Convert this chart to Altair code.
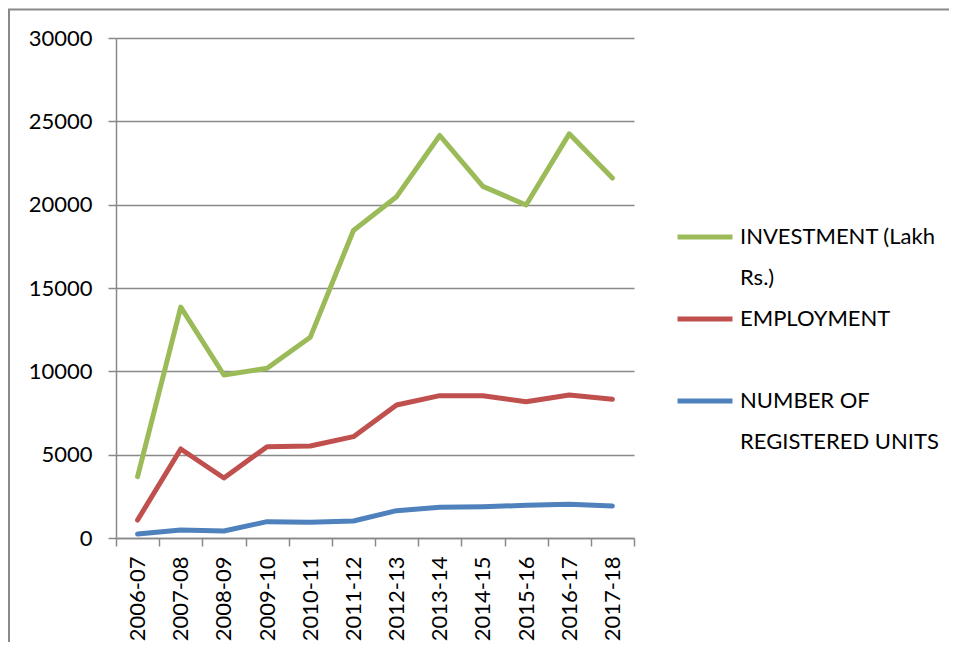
import altair as alt
import pandas as pd

categories = ["2006-07", "2007-08", "2008-09", "2009-10", "2010-11", "2011-12",
              "2012-13", "2013-14", "2014-15", "2015-16", "2016-17", "2017-18"]
investment = [3680, 13850, 9780, 10180, 12040, 18450, 20480, 24150, 21100, 19980, 24250, 21600]
employment = [1080, 5340, 3600, 5480, 5520, 6080, 7980, 8540, 8540, 8180, 8580, 8320]
units = [240, 480, 420, 980, 940, 1020, 1640, 1840, 1880, 1960, 2020, 1920]

series_names = ["INVESTMENT (Lakh Rs.)", "EMPLOYMENT", "NUMBER OF REGISTERED UNITS"]
series_colors = ["#9BBB59", "#C0504D", "#4F81BD"]
# legend text as shown, wrapped onto two lines per entry
legend_lines = {
    "INVESTMENT (Lakh Rs.)": ["INVESTMENT (Lakh", "Rs.)"],
    "EMPLOYMENT": ["EMPLOYMENT", ""],
    "NUMBER OF REGISTERED UNITS": ["NUMBER OF", "REGISTERED UNITS"],
}
y_ticks = [0, 5000, 10000, 15000, 20000, 25000, 30000]

rows = []
for name, vals in zip(series_names, [investment, employment, units]):
    for c, v in zip(categories, vals):
        rows.append({"year": c, "value": v, "series": name})
df = pd.DataFrame(rows)

# legend domain: each series followed by a continuation row for its second line
legend_domain, legend_range, label_map = [], [], {}
for name, col in zip(series_names, series_colors):
    first, second = legend_lines[name]
    cont = name + " (cont.)"
    legend_domain += [name, cont]
    legend_range += [col, "rgba(0,0,0,0)"]
    label_map[name] = first
    label_map[cont] = second
label_expr = " : ".join(f"datum.label == '{k}' ? '{v}'" for k, v in label_map.items()) + " : ''"

FONT = "Lato"
GRAY = "#898989"
W, H = 518, 500
PAD = {"left": 108, "top": 30, "right": 315, "bottom": 104}

lines = alt.Chart(df).mark_line(strokeWidth=5, strokeCap="round", strokeJoin="round").encode(
    x=alt.X("year:N", sort=categories, title=None,
            scale=alt.Scale(paddingInner=0, paddingOuter=0),
            axis=alt.Axis(labelAngle=270, labelFontSize=22, labelFont=FONT, labelColor="black",
                          labelPadding=10, tickSize=8, tickBand="extent", tickColor=GRAY,
                          tickWidth=1.5, domainColor=GRAY, domainWidth=1.5, grid=False,
                          labelAlign="right", labelBaseline="middle")),
    y=alt.Y("value:Q", title=None,
            scale=alt.Scale(domain=[0, 30000], nice=False),
            axis=alt.Axis(values=y_ticks, format="d", labelFontSize=22, labelFont=FONT,
                          labelColor="black", labelPadding=16, tickSize=8, tickColor=GRAY,
                          tickWidth=1.5, domainColor=GRAY, domainWidth=1.5, gridColor=GRAY,
                          gridWidth=1.5)),
    color=alt.Color("series:N", scale=alt.Scale(domain=legend_domain, range=legend_range),
                    legend=alt.Legend(orient="none", legendX=559, legendY=169, title=None,
                                      symbolType="stroke", symbolSize=3025, symbolStrokeWidth=5,
                                      labelFontSize=22, labelFont=FONT, labelColor="black",
                                      labelOffset=5, labelLimit=400, labelBaseline="middle",
                                      rowPadding=-1, padding=0, labelExpr=label_expr)),
    order=alt.Order("series:N"),
)

# outer frame of the figure (only its left and top edges fall inside the picture)
one = pd.DataFrame({"a": [0]})
frame = alt.Chart(one).mark_rect(fill=None, stroke=GRAY, strokeWidth=2).encode(
    x=alt.value(-107), x2=alt.value(900), y=alt.value(-28.5), y2=alt.value(700))

chart = alt.layer(frame, lines).properties(
    width=W, height=H, padding=PAD, autosize=alt.AutoSizeParams(type="none"),
).configure_view(stroke=None)

chart.save("out.html", embed_options={"renderer": "svg", "actions": False})
